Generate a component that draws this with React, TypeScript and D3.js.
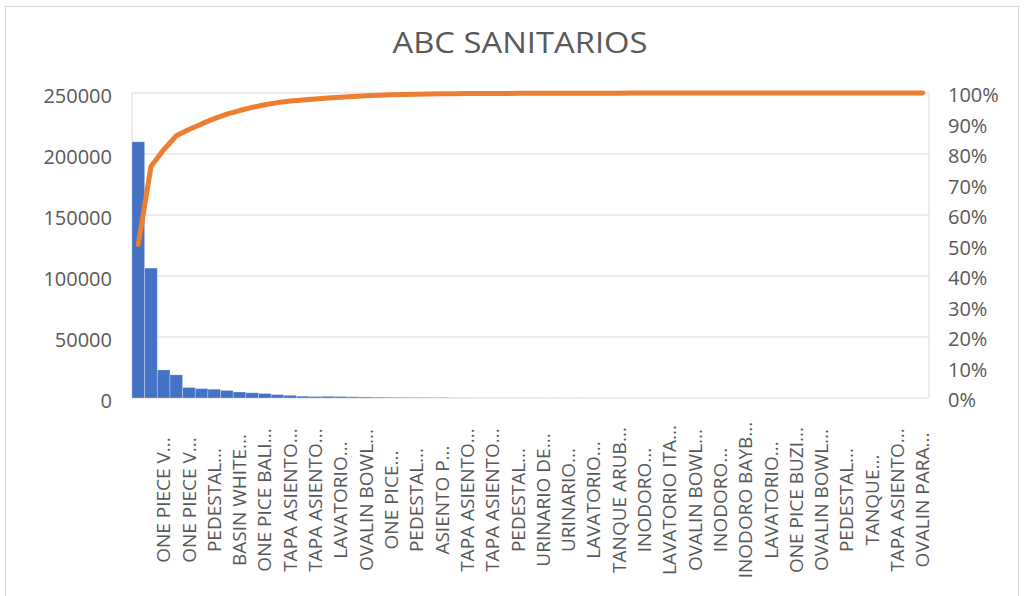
import React from "react";
import * as d3 from "d3";

const title = "ABC SANITARIOS";
const values: number[] = [
  210000, 106500, 23000, 19000, 8600, 7700, 7200, 6200, 4900, 4300, 3700, 2800,
  2200, 1500, 1200, 1400, 1200, 1000, 850, 700, 600, 500, 400, 340, 280, 120, 100,
  90, 80, 70, 60, 55, 50, 45, 40, 36, 32, 28, 25, 22, 20, 18, 16, 14, 12, 10, 9,
  8, 7, 6, 5, 5, 4, 4, 3, 3, 2, 2, 2, 1, 1, 1, 1,
];
// labels shown on every second category, starting at the third
const tickLabels: string[] = [
  "ONE PIECE V...", "ONE PIECE V...", "PEDESTAL...", "BASIN WHITE...", "ONE PICE BALI...",
  "TAPA ASIENTO...", "TAPA ASIENTO...", "LAVATORIO...", "OVALIN BOWL...", "ONE PICE...",
  "PEDESTAL...", "ASIENTO P...", "TAPA ASIENTO...", "TAPA ASIENTO...", "PEDESTAL...",
  "URINARIO DE...", "URINARIO...", "LAVATORIO...", "TANQUE ARUB...", "INODORO...",
  "LAVATORIO ITA...", "OVALIN BOWL...", "INODORO...", "INODORO BAYB...", "LAVATORIO...",
  "ONE PICE BUZI...", "OVALIN BOWL...", "PEDESTAL...", "TANQUE...", "TAPA ASIENTO...",
  "OVALIN PARA...",
];
const leftTicks = [0, 50000, 100000, 150000, 200000, 250000];
const rightTicks = [0, 0.1, 0.2, 0.3, 0.4, 0.5, 0.6, 0.7, 0.8, 0.9, 1];

const FONT = "'Open Sans', 'Noto Sans', sans-serif";
const TEXT = "#595959";
const GRID = "#d9d9d9";

export default function App() {
  const left = 132, right = 929, top = 93, bottom = 398;
  const idx = values.map((_, i) => i);
  const x = d3.scaleBand<number>().domain(idx).range([left, right]).padding(0);
  const y = d3.scaleLinear().domain([0, 250000]).range([bottom, top]);
  const yp = d3.scaleLinear().domain([0, 1]).range([bottom, top]);
  const total = d3.sum(values);
  const cum = Array.from(d3.cumsum(values)).map((v) => v / total);
  const line = d3
    .line<number>()
    .x((_, i) => (x(i) as number) + x.bandwidth() / 2)
    .y((d) => yp(d));

  return (
    <svg width={1024} height={596} style={{ position: "absolute", left: 0, top: 0, background: "#fff" }}>
      <rect x={5.5} y={6.5} width={1013} height={600} fill="#fff" stroke={GRID} />
      <text
        x={520}
        y={53}
        textAnchor="middle"
        fontFamily={FONT}
        fontSize={29}
        fill={TEXT}
        textLength={255}
        lengthAdjust="spacingAndGlyphs"
      >
        {title}
      </text>
      {leftTicks.map((t) => (
        <line key={"g" + t} x1={left} x2={right} y1={y(t)} y2={y(t)} stroke={GRID} strokeWidth={1} />
      ))}
      <line x1={left} x2={left} y1={top} y2={bottom} stroke={GRID} />
      <line x1={right} x2={right} y1={top} y2={bottom} stroke={GRID} />
      {values.map((v, i) => (
        <rect
          key={"b" + i}
          x={x(i)}
          y={y(v)}
          width={x.bandwidth()}
          height={bottom - y(v)}
          fill="#4472C4"
          stroke="#ffffff"
          strokeOpacity={0.35}
          strokeWidth={0.8}
        />
      ))}
      <path
        d={line(cum) || ""}
        fill="none"
        stroke="#ED7D31"
        strokeWidth={5}
        strokeLinecap="round"
        strokeLinejoin="round"
      />
      {leftTicks.map((t) => (
        <text
          key={"l" + t}
          x={112}
          y={y(t) + 3}
          dy="0.35em"
          textAnchor="end"
          fontFamily={FONT}
          fontSize={20}
          fill={TEXT}
        >
          {t}
        </text>
      ))}
      {rightTicks.map((t) => (
        <text
          key={"r" + t}
          x={948}
          y={yp(t) + 2}
          dy="0.35em"
          textAnchor="start"
          fontFamily={FONT}
          fontSize={20}
          fill={TEXT}
        >
          {Math.round(t * 100) + "%"}
        </text>
      ))}
      {tickLabels.map((lab, j) => {
        const i = 2 + j * 2;
        const cx = (x(i) as number) + x.bandwidth() / 2;
        return (
          <text
            key={"x" + j}
            transform={`translate(${cx},500) rotate(-90)`}
            textAnchor="middle"
            dy="0.35em"
            fontFamily={FONT}
            fontSize={19}
            fill={TEXT}
          >
            {lab}
          </text>
        );
      })}
    </svg>
  );
}
